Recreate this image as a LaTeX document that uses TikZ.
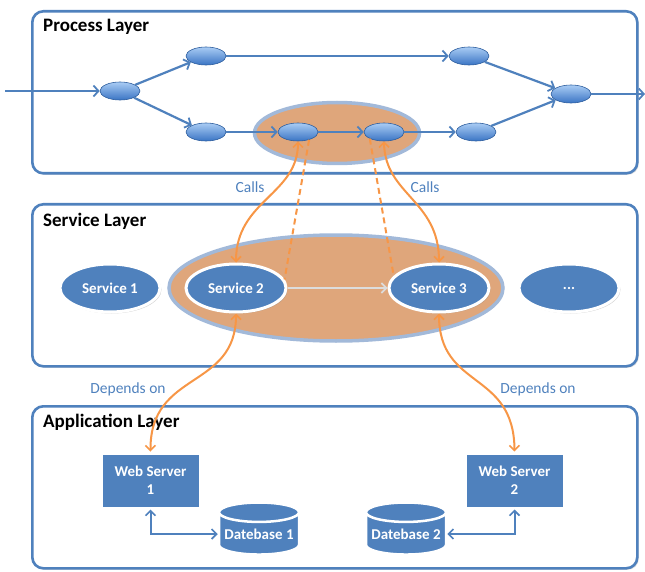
\documentclass[tikz,border=0pt]{standalone}
\usepackage{fontspec}
\setmainfont{Carlito}
\usetikzlibrary{arrows.meta,shapes.geometric,shadows}
\definecolor{lblue}{HTML}{4F81BD}
\definecolor{sblue}{HTML}{4F81BD}
\definecolor{ptop}{HTML}{A9CCF4}
\definecolor{pbot}{HTML}{3A74C4}
\definecolor{pedge}{HTML}{2E5E9E}
\definecolor{orng}{HTML}{F79646}
\definecolor{tanfill}{HTML}{DFA67B}
\definecolor{ringc}{HTML}{A2B9D9}
\definecolor{labc}{HTML}{4F81BD}
\definecolor{garrow}{HTML}{DCDCDC}
\tikzset{
  layer/.style={draw=lblue, line width=2.6pt, rounded corners=11pt, fill=white,
    drop shadow={opacity=0.25, shadow xshift=1.5pt, shadow yshift=-1.5pt},
    minimum width=605pt, minimum height=162pt, anchor=north west, inner sep=0pt},
  ltitle/.style={anchor=west, font=\fontsize{19}{20}\selectfont\bfseries, text=black, inner sep=0pt},
  pnode/.style={ellipse, minimum width=40pt, minimum height=18pt, inner sep=0pt,
    draw=pedge, line width=0.6pt, top color=ptop, bottom color=pbot},
  parrow/.style={draw=lblue, line width=2.2pt, -{Straight Barb[length=5pt,width=11pt,line width=1.8pt]}},
  snode/.style={ellipse, minimum width=100pt, minimum height=48pt, inner sep=0pt,
    fill=sblue, draw=white, line width=3pt, text=white,
    font=\fontsize{15}{16}\selectfont\bfseries,
    drop shadow={opacity=0.35, shadow xshift=1.5pt, shadow yshift=-1.5pt}},
  ocall/.style={draw=orng, line width=2pt,
    {Straight Barb[length=5pt,width=10pt,line width=1.6pt]}-{Straight Barb[length=5pt,width=10pt,line width=1.6pt]}},
  odash/.style={draw=orng, line width=2pt, dash pattern=on 6pt off 4pt},
  olabel/.style={text=labc, font=\fontsize{15.5}{16}\selectfont, inner sep=0pt},
  wsbox/.style={rectangle, minimum width=99pt, minimum height=55pt, inner sep=0pt,
    fill=sblue, draw=white, line width=3pt, text=white, align=center,
    font=\fontsize{15}{18}\selectfont\bfseries,
    drop shadow={opacity=0.35, shadow xshift=1.5pt, shadow yshift=-1.5pt}},
  dbcyl/.style={cylinder, shape border rotate=90, aspect=0.28,
    minimum width=80pt, minimum height=52pt, inner sep=0pt,
    draw=white, line width=2.5pt, fill=sblue, text=white,
    font=\fontsize{15}{16}\selectfont\bfseries},
  barrow/.style={draw=lblue, line width=2pt,
    {Straight Barb[length=5pt,width=10pt,line width=1.6pt]}-{Straight Barb[length=5pt,width=10pt,line width=1.6pt]}}
}
\begin{document}
\begin{tikzpicture}[x=1pt,y=-1pt]
\useasboundingbox (0,0) rectangle (645,572);

% layers
\node[layer] (pl) at (31,10) {};
\node[layer] (sl) at (31,203) {};
\node[layer] (al) at (31,405) {};
\node[ltitle] (plt) at (43,27) {Process Layer};
\node[ltitle] (slt) at (43,221) {Service Layer};
\node[ltitle] (alt) at (43,422) {Application Layer};

% orange groups
\node[ellipse, minimum width=165pt, minimum height=61pt, fill=tanfill, draw=ringc, line width=3.5pt] (pg) at (337,133) {};
\node[ellipse, minimum width=334pt, minimum height=106pt, fill=tanfill, draw=ringc, line width=3.5pt] (sg) at (336,288) {};

% process nodes
\node[pnode] (n0) at (120,91) {};
\node[pnode] (n1) at (206,56) {};
\node[pnode] (n2) at (469,56) {};
\node[pnode] (n3) at (571,94) {};
\node[pnode] (n4) at (206,132) {};
\node[pnode] (n5) at (298,132) {};
\node[pnode] (n6) at (384,132) {};
\node[pnode] (n7) at (476,132) {};
\coordinate (pin) at (5,91);
\coordinate (pout) at (645,94);

\draw[parrow] (pin) -- (n0);
\draw[parrow] (n0) -- (n1);
\draw[parrow] (n1) -- (n2);
\draw[parrow] (n2) -- (n3);
\draw[parrow] (n0) -- (n4);
\draw[parrow] (n4) -- (n5);
\draw[parrow] (n5) -- (n6);
\draw[parrow] (n6) -- (n7);
\draw[parrow] (n7) -- (n3);
\draw[parrow] (n3) -- (pout);

% service nodes
\node[snode] (s1) at (110,288) {Service 1};
\node[snode] (s2) at (236,288) {Service 2};
\node[snode] (s3) at (439,288) {Service 3};
\node[snode] (s4) at (569,288) {...};
\draw[draw=garrow, line width=2pt, -{Straight Barb[length=5pt,width=10pt,line width=1.6pt]}] (s2) -- (s3);

% application nodes
\node[wsbox] (ws1) at (150.5,480.5) {Web Server\\1};
\node[wsbox] (ws2) at (514.5,480.5) {Web Server\\2};
\node[dbcyl] (db1) at (259,534) {Datebase 1};
\node[dbcyl] (db2) at (406,534) {Datebase 2};
\draw[barrow] (ws1.south) |- (db1.west);
\draw[barrow] (db2.east) -| (ws2.south);

% orange connectors
\draw[odash] (n5.-35) -- (s2.10);
\draw[odash] (n6.205) -- (s3.165);
\draw[ocall] (s2.north) .. controls (236,200) and (298,195) .. (n5.south);
\draw[ocall] (s3.north) .. controls (439,200) and (385,195) .. (n6.south);
\draw[ocall] (s2.south) .. controls (236,390) and (150,370) .. (ws1.north);
\draw[ocall] (s3.south) .. controls (439,390) and (514,370) .. (ws2.north);

% labels
\node[olabel] (c1) at (250,187) {Calls};
\node[olabel] (c2) at (425,187) {Calls};
\node[olabel] (d1) at (128,389) {Depends on};
\node[olabel] (d2) at (538,389) {Depends on};
\end{tikzpicture}
\end{document}
